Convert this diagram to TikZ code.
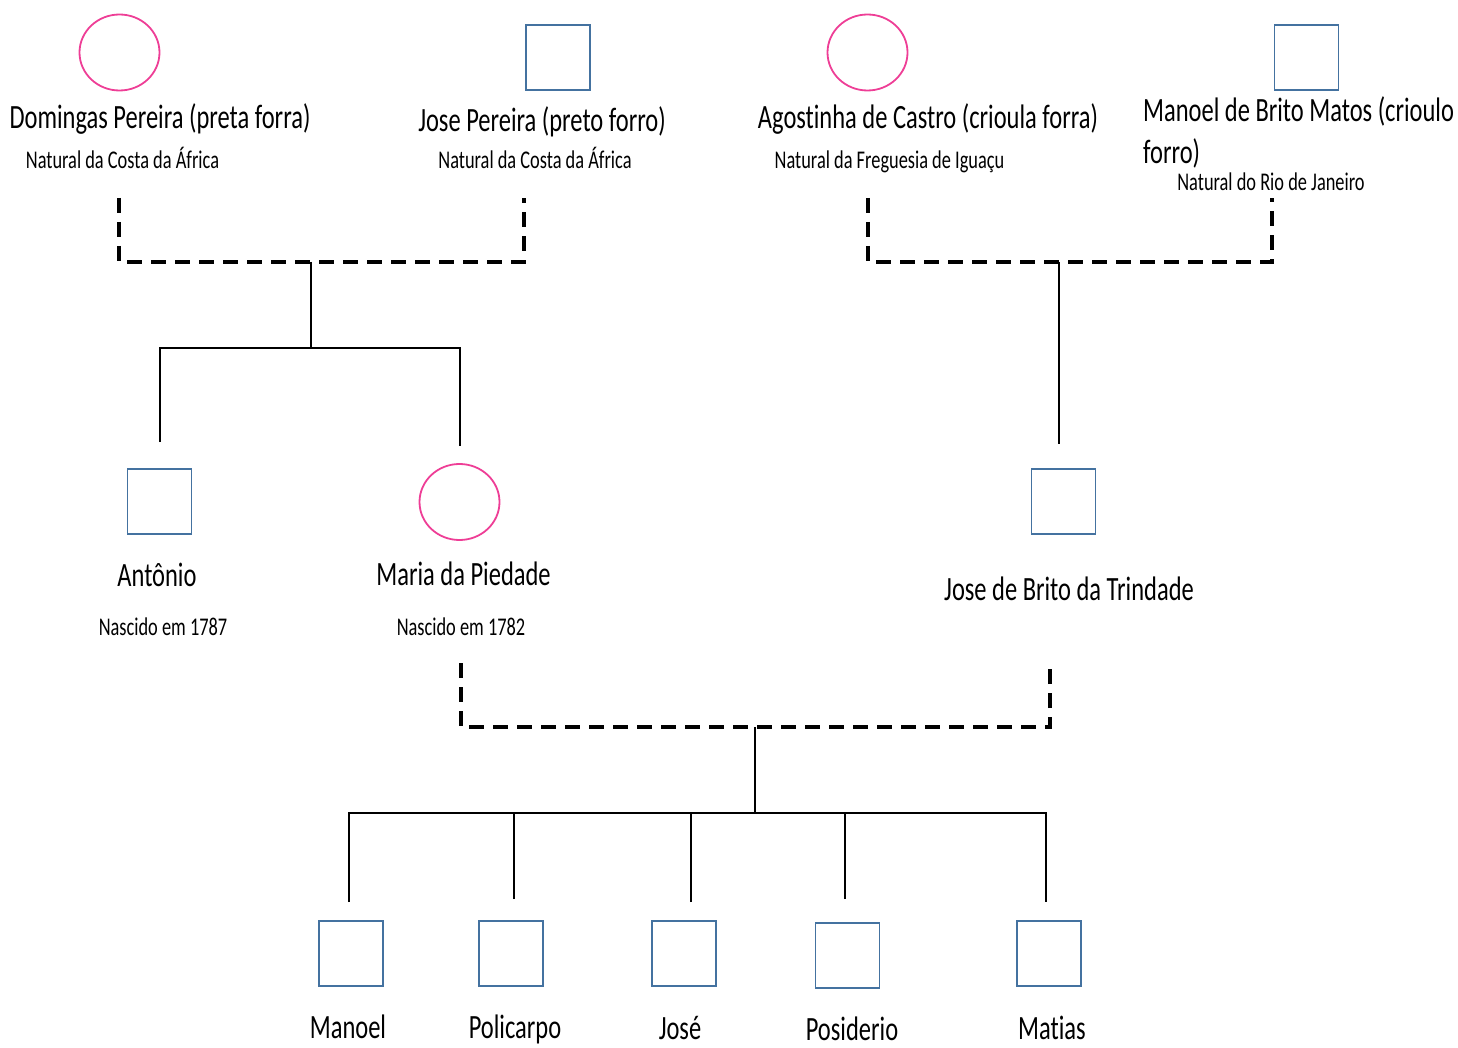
\documentclass[tikz,border=0pt]{standalone}
\usepackage{fontspec}
\setmainfont{Carlito}[FakeStretch=0.72, Ligatures=CommonOff]
\usetikzlibrary{shapes.geometric}
\definecolor{femline}{RGB}{238,62,150}
\definecolor{maleline}{RGB}{68,114,160}
\tikzset{
  female/.style={ellipse, draw=femline, line width=1.8pt, minimum width=80pt, minimum height=76pt, inner sep=0pt},
  male/.style={rectangle, draw=maleline, line width=1.8pt, minimum width=64pt, minimum height=65pt, inner sep=0pt},
  bigname/.style={anchor=base, inner sep=0pt, font=\fontsize{34}{42}\selectfont},
  smallnote/.style={anchor=base, inner sep=0pt, font=\fontsize{25.5}{30}\selectfont},
  union/.style={line width=3.6pt, dash pattern=on 15pt off 9pt},
  descent/.style={line width=2pt}
}
\begin{document}
\begin{tikzpicture}[x=1pt, y=-1pt]
\useasboundingbox (0,0) rectangle (1458,1048);

% first generation
\node[female] (dom) at (119.5,52.5) {};
\node[male]   (jpe) at (558,57.5) {};
\node[female] (ago) at (867.5,52.5) {};
\node[male]   (mbm) at (1306.5,57.5) {};

\node[bigname] (dom-name) at (160,129) {Domingas Pereira (preta forra)};
\node[smallnote] (dom-note) at (122.5,169) {Natural da Costa da África};
\node[bigname] (jpe-name) at (542,132) {Jose Pereira (preto forro)};
\node[smallnote] (jpe-note) at (535,169) {Natural da Costa da África};
\node[bigname] (ago-name) at (928,129) {Agostinha de Castro (crioula forra)};
\node[smallnote] (ago-note) at (889.5,169) {Natural da Freguesia de Iguaçu};
\node[bigname, anchor=base west, align=left] (mbm-name) at (1143,164) {Manoel de Brito Matos (crioulo\\forro)};
\node[smallnote] (mbm-note) at (1271,191) {Natural do Rio de Janeiro};

% second generation
\node[male]   (ant) at (159.5,501.5) {};
\node[female] (mar) at (459.5,502) {};
\node[male]   (jbt) at (1063.5,501.5) {};

\node[bigname] (ant-name) at (157,586) {Antônio};
\node[smallnote] (ant-note) at (163,635) {Nascido em 1787};
\node[bigname] (mar-name) at (463.5,585) {Maria da Piedade};
\node[smallnote] (mar-note) at (461,635) {Nascido em 1782};
\node[bigname] (jbt-name) at (1069,600) {Jose de Brito da Trindade};

% third generation
\node[male] (k1) at (351,953.5) {};
\node[male] (k2) at (511,953.5) {};
\node[male] (k3) at (684,953.5) {};
\node[male] (k4) at (847.5,955.5) {};
\node[male] (k5) at (1049,953.5) {};

\node[bigname] (k1-name) at (348,1038) {Manoel};
\node[bigname] (k2-name) at (515,1038) {Policarpo};
\node[bigname] (k3-name) at (680,1039) {José};
\node[bigname] (k4-name) at (852,1040) {Posiderio};
\node[bigname] (k5-name) at (1052,1039) {Matias};

% union and descent points
\coordinate (u1l) at (119,198);
\coordinate (u1r) at (524,198);
\coordinate (j1)  at (311,262);
\coordinate (b1)  at (311,348);

\coordinate (u2l) at (868,198);
\coordinate (u2r) at (1272,198);
\coordinate (j2)  at (1059,262);

\coordinate (u3l) at (461,663);
\coordinate (u3r) at (1050,663);
\coordinate (j3)  at (755,727);
\coordinate (b3)  at (755,813);

% first couple
\draw[union] (u1l) |- (j1) -| (u1r);
\draw[descent] (j1) -- (b1);
\draw[descent, shorten <=26pt, shorten >=17pt] ([xshift=0.5pt]ant.north) |- (b1) -| (mar.north);

% second couple
\draw[union] (u2l) |- (j2) -| (u2r);
\draw[descent, shorten >=24pt] (j2) -- ([xshift=-4.5pt]jbt.north);

% third couple and children
\draw[union] (u3l) |- (j3) -| (u3r);
\draw[descent] (j3) -- (b3);
\draw[descent, shorten <=18pt, shorten >=18pt] ([xshift=-2pt]k1.north) |- (b3) -| ([xshift=-3pt]k5.north);
\draw[descent, shorten <=21pt] ([xshift=3pt]k2.north) -- ([xshift=3pt]k2.north |- b3);
\draw[descent, shorten <=18pt] ([xshift=7pt]k3.north) -- ([xshift=7pt]k3.north |- b3);
\draw[descent, shorten <=23pt] ([xshift=-2.5pt]k4.north) -- ([xshift=-2.5pt]k4.north |- b3);
\end{tikzpicture}
\end{document}
